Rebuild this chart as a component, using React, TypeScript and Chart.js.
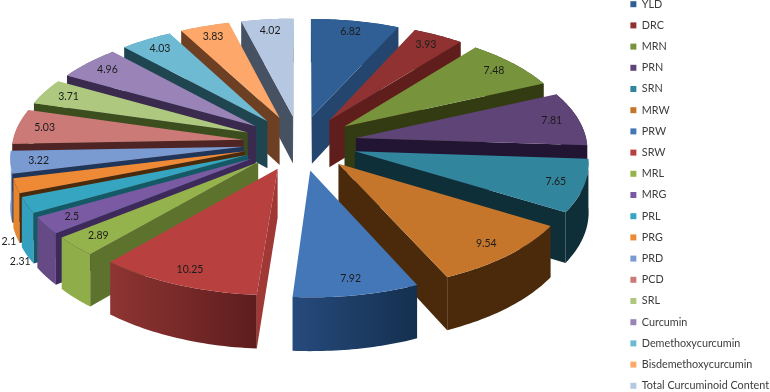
import React, { useEffect, useRef } from "react";
import { Chart, registerables } from "chart.js";

Chart.register(...registerables);

const categories = ["YLD","DRC","MRN","PRN","SRN","MRW","PRW","SRW","MRL","MRG","PRL","PRG","PRD","PCD","SRL","Curcumin","Demethoxycurcumin","Bisdemethoxycurcumin","Total Curcuminoid Content"];
const values = [6.82,3.93,7.48,7.81,7.65,9.54,7.92,10.25,2.89,2.5,2.31,2.1,3.22,5.03,3.71,4.96,4.03,3.83,4.02];
const topColors = ["#2F5F94","#8F3231","#77933C","#5F4478","#31859C","#C5762B","#4477B8","#B8403E","#95B34D","#7A5BA3","#35A5C2","#EE8A35","#7A9BD2","#CC7A78","#AEC97F","#9A83B6","#6FBAD3","#FDA86A","#B6C7E2"];
const radialWalls = ["#24466E","#5F1E1C","#333B12","#221534","#0E2E38","#4B2A0B","#1C3D63","#A03836","#5D722D","#3D2A5A","#145A66","#4A2A0A","#1F3559","#4F2424","#3C4E1E","#3A2A4D","#1E4550","#6E4023","#465261"];
const outerWallsFrom = ["#24466E","#5F1E1C","#333B12","#221534","#0E2E38","#4B2A0B","#264A7C","#8E3533","#8FAE4A","#654A85","#33A0BF","#E8852F","#6F93CC","#B86C6A","#8FA868","#7D6A96","#5798AE","#C98553","#8FA0B8"];
const outerWallsTo = ["#24466E","#5F1E1C","#333B12","#221534","#0E2E38","#4B2A0B","#14304F","#5E1D1D","#8FAE4A","#654A85","#33A0BF","#E8852F","#6F93CC","#B86C6A","#8FA868","#7D6A96","#5798AE","#C98553","#8FA0B8"];

const TOP = 15;
const view = { cx: 300, cy: 143, a: 231, b: 110.7, k: 0.087, h: 48, e: 0.247, labelR: 0.88, outsideR: 1.03, outsideBelow: 2.4 };

const project = (gx: number, gy: number, level: number) => {
  const w = 1 - view.k * gy;
  return [view.cx + (view.a * gx) / w, TOP + view.cy + (view.b * gy + view.h * level) / w];
};

const pie3d = {
  id: "pie3d",
  beforeDatasetsDraw(chart: any) {
    const ctx = chart.ctx as CanvasRenderingContext2D;
    const arcs = chart.getDatasetMeta(0).data;
    const slices = arcs.map((arc: any, i: number) => {
      const a0 = arc.startAngle + Math.PI / 2;
      const a1 = arc.endAngle + Math.PI / 2;
      return { i, a0, a1, m: (a0 + a1) / 2 };
    });
    const ground = (s: any, r: number, t: number) => [
      view.e * Math.sin(s.m) + r * Math.sin(t),
      -(view.e * Math.cos(s.m) + r * Math.cos(t)),
    ];
    const fillPoly = (pts: number[][], fill: any) => {
      ctx.beginPath();
      pts.forEach((p, j) => (j ? ctx.lineTo(p[0], p[1]) : ctx.moveTo(p[0], p[1])));
      ctx.closePath();
      ctx.fillStyle = fill;
      ctx.fill();
    };
    const order = [...slices].sort((p: any, q: any) => -Math.cos(p.m) - -Math.cos(q.m));
    order.forEach((s: any) => {
      const n = 30;
      const rim = (level: number) => {
        const out: number[][] = [];
        for (let j = 0; j <= n; j++) {
          const t = s.a0 + ((s.a1 - s.a0) * j) / n;
          const g = ground(s, 1, t);
          out.push(project(g[0], g[1], level));
        }
        return out;
      };
      const g0 = ground(s, 0, 0);
      const apexTop = project(g0[0], g0[1], 0);
      const apexBot = project(g0[0], g0[1], 1);
      const rimTop = rim(0);
      const rimBot = rim(1);
      const grad = ctx.createLinearGradient(Math.min(rimTop[0][0], rimTop[n][0]), 0, Math.max(rimTop[0][0], rimTop[n][0]), 0);
      grad.addColorStop(0, outerWallsFrom[s.i]);
      grad.addColorStop(1, outerWallsTo[s.i]);
      fillPoly([...rimTop, ...[...rimBot].reverse()], grad);
      [[0, n], [n, 0]].forEach(([edge, other]) => {
        const c = rimTop[edge];
        const d = [c[0] - apexTop[0], c[1] - apexTop[1]];
        const inner = [rimTop[other][0] - apexTop[0], rimTop[other][1] - apexTop[1]];
        const sideInner = d[0] * inner[1] - d[1] * inner[0];
        const sideDown = d[0];
        if (sideInner * sideDown < 0) {
          fillPoly([apexTop, c, rimBot[edge], apexBot], radialWalls[s.i]);
        }
      });
      fillPoly([apexTop, ...rimTop], topColors[s.i]);
    });
    ctx.save();
    ctx.font = "10.5px Lato";
    ctx.fillStyle = "#1c1c1c";
    ctx.textAlign = "center";
    ctx.textBaseline = "middle";
    slices.forEach((s: any) => {
      const outside = values[s.i] < view.outsideBelow;
      const g = ground(s, outside ? view.outsideR : view.labelR, s.m);
      const p = project(g[0], g[1], outside ? 1 : 0);
      ctx.fillText(String(values[s.i]), p[0], p[1] + (outside ? 5 : 0));
    });
    ctx.restore();
    return false;
  },
};

export default function App() {
  const ref = useRef<HTMLCanvasElement>(null);
  useEffect(() => {
    const chart = new Chart(ref.current!, {
      type: "pie",
      data: {
        labels: categories,
        datasets: [{ data: values, backgroundColor: topColors, borderWidth: 0 }],
      },
      options: {
        animation: false,
        responsive: false,
        plugins: {
          tooltip: { enabled: false },
          legend: {
            position: "right",
            labels: {
              boxWidth: 6,
              boxHeight: 6,
              padding: 10.4,
              color: "#3c3c3c",
              font: { family: "Lato", size: 10.8, lineHeight: 1.2 },
            },
          },
        },
      },
      plugins: [pie3d],
    } as any);
    return () => chart.destroy();
  }, []);
  return (
    <div style={{ position: "fixed", left: 0, top: 0, width: 770, height: 392, overflow: "hidden", background: "#fff" }}>
      <canvas ref={ref} width={779} height={420} style={{ position: "absolute", left: 0, top: -TOP, display: "block" }} />
    </div>
  );
}
